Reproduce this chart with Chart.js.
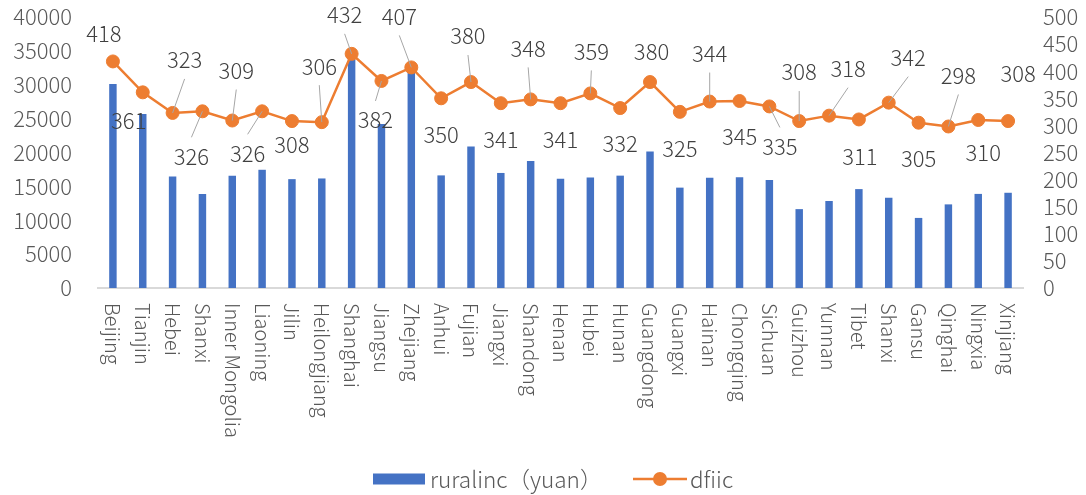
<!DOCTYPE html>
<html>
<head>
<meta charset="utf-8">
<script src="https://cdn.jsdelivr.net/npm/chart.js@4.4.1/dist/chart.umd.min.js"></script>
<style>
    html, body { margin: 0; padding: 0; background: #fff; }
    #wrap { width: 1086px; height: 495px; }
</style>
</head>
<body>
<div id="wrap"><canvas id="income_chart"></canvas></div>
<script>
// Chart data
const provinces = ['Beijing', 'Tianjin', 'Hebei', 'Shanxi', 'Inner Mongolia', 'Liaoning', 'Jilin', 'Heilongjiang',
    'Shanghai', 'Jiangsu', 'Zhejiang', 'Anhui', 'Fujian', 'Jiangxi', 'Shandong', 'Henan', 'Hubei', 'Hunan',
    'Guangdong', 'Guangxi', 'Hainan', 'Chongqing', 'Sichuan', 'Guizhou', 'Yunnan', 'Tibet', 'Shanxi', 'Gansu',
    'Qinghai', 'Ningxia', 'Xinjiang'];

const ruralIncome = [30126, 25691, 16467, 13878, 16567, 17450, 16067, 16168, 34911, 24198, 31930, 16620, 20880,
    16981, 18753, 16108, 16306, 16585, 20143, 14815, 16279, 16361, 15929, 11642, 12842, 14598, 13316, 10344,
    12342, 13889, 14056];

const dfiic = [418, 361, 323, 326, 309, 326, 308, 306, 432, 382, 407, 350, 380, 341, 348, 341, 359, 332, 380, 325,
    344, 345, 335, 308, 318, 311, 342, 305, 298, 310, 308];

const seriesNames = ['ruralinc（yuan）', 'dfiic'];

// Axis ranges
const leftAxis  = { min: 0, max: 40000, step: 5000 };
const rightAxis = { min: 0, max: 500, step: 50 };

// data label placement (dx, dy from the point, leader line or not)
const labelOffsets = [
    [-9, -28, 0], [-14, 28, 0], [12, -53, 1], [-11, 45, 1], [4, -50, 1], [-14.5, 42, 1], [0, 24, 0],
    [-2.5, -56, 1], [-7, -39, 1], [-6, 39, 1], [-12, -51, 1], [0, 36, 0], [-3, -46, 1], [0, 36, 0],
    [-2.5, -51, 1], [0, 36, 0], [1, -42, 1], [0, 36, 0], [1.5, -30, 0], [0, 37, 0], [0, -48, 1],
    [0, 36, 0], [10.5, 40, 1], [0, -49, 1], [19, -47, 1], [1, 37, 0], [19.5, -45, 1], [0, 36, 0],
    [10, -51, 1], [5, 33, 0], [10, -47, 0]
];

const FONT      = "'Noto Sans CJK SC', 'Liberation Sans', sans-serif";
const BLUE      = '#4472C4';
const ORANGE    = '#ED7D31';
const AXIS_TEXT = '#595959';

// Extra drawing: rotated categories, data labels, legend
const decorPlugin = {
    id: 'decor',
    afterDatasetsDraw( chart )
    {
        const ctx  = chart.ctx;
        const meta = chart.getDatasetMeta(1);

        ctx.save();
        ctx.font = '300 22px ' + FONT;
        ctx.textAlign = 'center';
        ctx.textBaseline = 'middle';

        meta.data.forEach( ( pt, i ) => {
            const [dx, dy, leader] = labelOffsets[i];
            const lx = pt.x + dx, ly = pt.y + dy;

            if ( leader )
            {
                const dir = dy < 0 ? 1 : -1;
                ctx.strokeStyle = '#A6A6A6';
                ctx.lineWidth = 1;
                ctx.beginPath();
                ctx.moveTo(lx, ly + dir * 19);
                ctx.lineTo(pt.x, pt.y);
                ctx.stroke();
            }

            ctx.fillStyle = '#404040';
            ctx.fillText(String(dfiic[i]), lx, ly);
        });
        ctx.restore();
    },
    afterDraw( chart )
    {
        const ctx = chart.ctx;
        const xs  = chart.scales.x;

        // category labels, reading top to bottom
        ctx.save();
        ctx.font = '300 20px ' + FONT;
        ctx.fillStyle = AXIS_TEXT;
        ctx.textAlign = 'left';
        ctx.textBaseline = 'middle';
        provinces.forEach( ( name, i ) => {
            ctx.save();
            ctx.translate(xs.getPixelForValue(i), chart.chartArea.bottom + 15);
            ctx.rotate(Math.PI / 2);
            ctx.fillText(name, 0, 0);
            ctx.restore();
        });

        // legend
        const ly = 479;
        ctx.font = '300 22.5px ' + FONT;
        ctx.fillStyle = BLUE;
        ctx.fillRect(373, ly - 5.5, 52, 11);
        ctx.fillStyle = AXIS_TEXT;
        ctx.fillText(seriesNames[0], 430, ly);

        ctx.strokeStyle = ORANGE;
        ctx.lineWidth = 2.5;
        ctx.beginPath();
        ctx.moveTo(633, ly);
        ctx.lineTo(687, ly);
        ctx.stroke();
        ctx.fillStyle = ORANGE;
        ctx.beginPath();
        ctx.arc(660, ly, 7, 0, Math.PI * 2);
        ctx.fill();
        ctx.fillStyle = AXIS_TEXT;
        ctx.fillText(seriesNames[1], 690, ly);
        ctx.restore();
    }
};

const incomeCtx = document.getElementById('income_chart');

const tickFont = { family: FONT, size: 22, weight: 300 };

const incomeConfig = {
    data: {
        labels: provinces,
        datasets: [
            {
                type: 'bar',
                label: seriesNames[0],
                data: ruralIncome,
                yAxisID: 'y',
                backgroundColor: BLUE,
                barPercentage: 0.25,
                categoryPercentage: 1,
                order: 1
            },
            {
                type: 'line',
                label: seriesNames[1],
                data: dfiic,
                yAxisID: 'y1',
                borderColor: ORANGE,
                backgroundColor: ORANGE,
                borderWidth: 2.5,
                pointRadius: 6.5,
                pointBorderWidth: 1,
                pointBackgroundColor: ORANGE,
                pointBorderColor: ORANGE,
                tension: 0,
                order: 0
            }
        ]
    },
    options: {
        responsive: true,
        maintainAspectRatio: false,
        animation: false,
        layout: { padding: { top: 17, left: 0, right: 0, bottom: 0 } },
        plugins: {
            legend: { display: false },
            tooltip: { enabled: false }
        },
        scales: {
            x: {
                grid: { display: false, drawTicks: false },
                border: { display: true, color: '#D9D9D9', width: 2 },
                ticks: { display: false },
                afterFit: ( s ) => { s.height = 207; }
            },
            y: {
                position: 'left',
                min: leftAxis.min,
                max: leftAxis.max,
                grid: { display: false, drawTicks: false },
                border: { display: false },
                ticks: {
                    stepSize: leftAxis.step,
                    autoSkip: false,
                    padding: 26,
                    color: AXIS_TEXT,
                    font: tickFont,
                    callback: ( v ) => String(v)
                },
                afterFit: ( s ) => { s.width = 98; s.paddingTop = 0; s.paddingBottom = 0; }
            },
            y1: {
                position: 'right',
                min: rightAxis.min,
                max: rightAxis.max,
                grid: { display: false, drawTicks: false },
                border: { display: false },
                ticks: {
                    stepSize: rightAxis.step,
                    autoSkip: false,
                    padding: 20,
                    color: AXIS_TEXT,
                    font: tickFont,
                    callback: ( v ) => String(v)
                },
                afterFit: ( s ) => { s.width = 63; s.paddingTop = 0; s.paddingBottom = 0; }
            }
        }
    },
    plugins: [decorPlugin]
};

if ( incomeCtx )
    new Chart(incomeCtx, incomeConfig);
</script>
</body>
</html>
